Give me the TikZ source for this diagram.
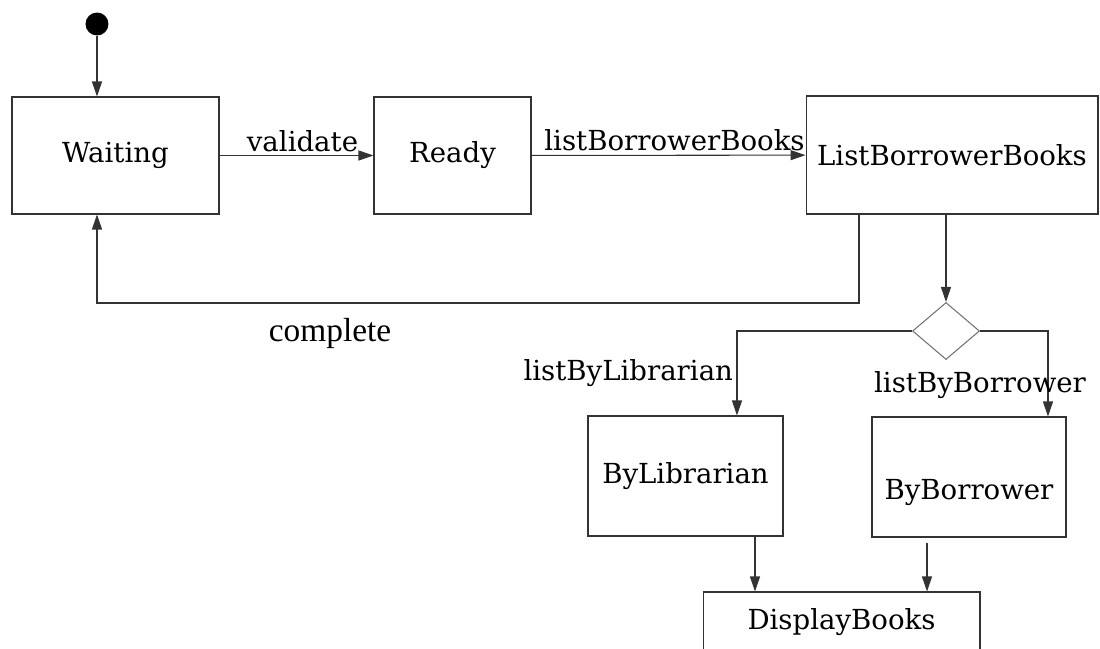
\documentclass[tikz,border=0pt]{standalone}
\usepackage{fontspec}
\setmainfont{DejaVu Serif}
\newfontfamily\timesfont{Liberation Serif}
\usetikzlibrary{arrows.meta,shapes.geometric}
\tikzset{
  state/.style={draw=black!80,line width=.6pt,rectangle,inner sep=0pt},
  choice/.style={draw=black!55,line width=.6pt,diamond,inner sep=0pt,
    minimum width=1.34cm,minimum height=1.14cm},
  flow/.style={draw=black!80,line width=.6pt,-{Triangle[length=3mm,width=2mm]}},
  lbl/.style={inner sep=2pt}
}
\begin{document}
\begin{tikzpicture}[x=0.02cm,y=-0.02cm,font=\fontsize{15.7}{18}\selectfont]
  \useasboundingbox (0,0) rectangle (1100,649);
  \node[circle,fill=black,minimum size=0.46cm,inner sep=0pt] (start) at (97,24) {};
  \node[state,minimum width=4.14cm,minimum height=2.34cm] (waiting) at (115.5,155.5) {Waiting};
  \node[state,minimum width=3.14cm,minimum height=2.34cm] (ready) at (452.5,155.5) {Ready};
  \node[state,minimum width=5.84cm,minimum height=2.36cm] (lbb) at (952,155) {ListBorrowerBooks};
  \node[choice] (branch) at (946,331) {};
  \node[state,minimum width=3.9cm,minimum height=2.4cm] (bylib) at (685.5,476) {ByLibrarian};
  \node[state,minimum width=3.88cm,minimum height=2.4cm,
        label={[yshift=-0.32cm]center:ByBorrower}] (bybor) at (969,477) {};
  \node[state,minimum width=5.54cm,minimum height=1.2cm] (display) at (841.5,622) {DisplayBooks};
  \coordinate (back) at (97,303);

  \draw[flow] (start) -- (start |- waiting.north);
  \draw[flow] (waiting) -- node[lbl,above,xshift=0.12cm] {validate} (ready);
  \draw[flow] (ready) -- node[lbl,above,xshift=0.12cm] {listBorrowerBooks} (lbb);
  \draw[flow] ([xshift=-1.86cm]lbb.south) |- (back) -- (start |- waiting.south);
  \node[font=\timesfont\fontsize{19}{22}\selectfont] (complete) at (330,333) {complete};
  \draw[flow] (lbb.south -| branch) -- (branch.north);
  \draw[flow] (branch.west) -| node[lbl,pos=.75,left] {listByLibrarian} ([xshift=1.03cm]bylib.north);
  \draw[flow] (branch.east) -| ([xshift=1.58cm]bybor.north);
  \node (bybortext) at (980,385) {listByBorrower};
  \draw[flow] ([xshift=1.39cm]bylib.south) -- ([xshift=1.39cm]bylib.south |- display.north);
  \draw[flow] ([xshift=-0.84cm,yshift=-0.1cm]bybor.south) -- ([xshift=-0.84cm]bybor.south |- display.north);
\end{tikzpicture}
\end{document}
